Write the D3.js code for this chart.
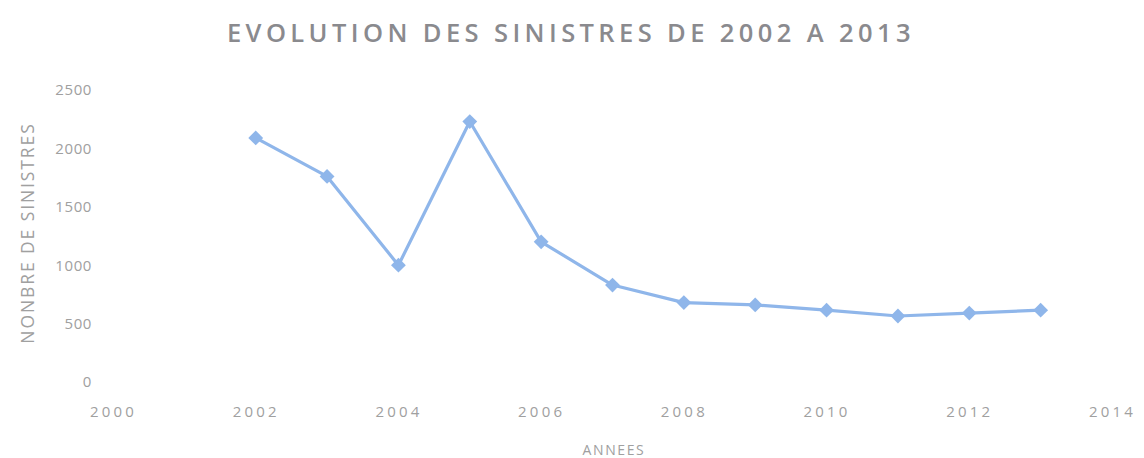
<!DOCTYPE html>
<html>
<head>
<meta charset="utf-8">
<script src="https://cdn.jsdelivr.net/npm/d3@7"></script>
<style>
html,body{margin:0;padding:0;background:#fff;}
svg{display:block;}
text{font-family:"Open Sans","DejaVu Sans",sans-serif;}
</style>
</head>
<body>
<svg id="chart" width="1144" height="458"></svg>
<script>
const years = [2002,2003,2004,2005,2006,2007,2008,2009,2010,2011,2012,2013];
const sinistres = [2090,1760,1000,2230,1200,830,680,660,615,565,590,615];
const xTicks = [2000,2002,2004,2006,2008,2010,2012,2014];
const yTicks = [0,500,1000,1500,2000,2500];
const title = "EVOLUTION DES SINISTRES DE 2002 A 2013";
const xTitle = "ANNEES";
const yTitle = "NONBRE DE SINISTRES";

const svg = d3.select("#chart");
const x = d3.scaleLinear().domain([2000,2014]).range([113,1112]);
const y = d3.scaleLinear().domain([0,2500]).range([382,90]);

svg.append("text").attr("x",571).attr("y",42).attr("text-anchor","middle")
  .attr("font-size",25.5).attr("font-weight",600).attr("letter-spacing",4.4)
  .attr("fill","#8a8a8e").text(title);

const yAxis = svg.append("g").attr("transform","translate(98,0)")
  .call(d3.axisLeft(y).tickValues(yTicks).tickSize(0).tickPadding(6).tickFormat(d3.format("d")));
yAxis.select(".domain").remove();
yAxis.selectAll("text").attr("font-size",15).attr("fill","#a0a0a0").attr("letter-spacing",0.6)
  .attr("font-family","'Open Sans',sans-serif");

const xAxis = svg.append("g").attr("transform","translate(0,404)")
  .call(d3.axisBottom(x).tickValues(xTicks).tickSize(0).tickPadding(2).tickFormat(d3.format("d")));
xAxis.select(".domain").remove();
xAxis.selectAll("text").attr("font-size",15).attr("fill","#a0a0a0").attr("letter-spacing",3.2)
  .attr("font-family","'Open Sans',sans-serif");

svg.append("text").attr("x",614).attr("y",455).attr("text-anchor","middle")
  .attr("font-size",14).attr("fill","#a0a0a0").attr("letter-spacing",1.6).text(xTitle);
svg.append("text").attr("transform","translate(34,233) rotate(-90)").attr("text-anchor","middle")
  .attr("font-size",17.5).attr("fill","#a0a0a0").attr("letter-spacing",1.9).text(yTitle);

const line = d3.line().x((d,i)=>x(years[i])).y(d=>y(d));
svg.append("path").datum(sinistres).attr("d",line).attr("fill","none")
  .attr("stroke","#8fb6ea").attr("stroke-width",3.2).attr("stroke-linejoin","round");

svg.selectAll(".pt").data(sinistres).enter().append("path").attr("class","pt")
  .attr("transform",(d,i)=>`translate(${x(years[i])},${y(d)})`)
  .attr("d",d3.symbol().type(d3.symbolDiamond2).size(140))
  .attr("fill","#8fb6ea");
</script>
</body>
</html>
